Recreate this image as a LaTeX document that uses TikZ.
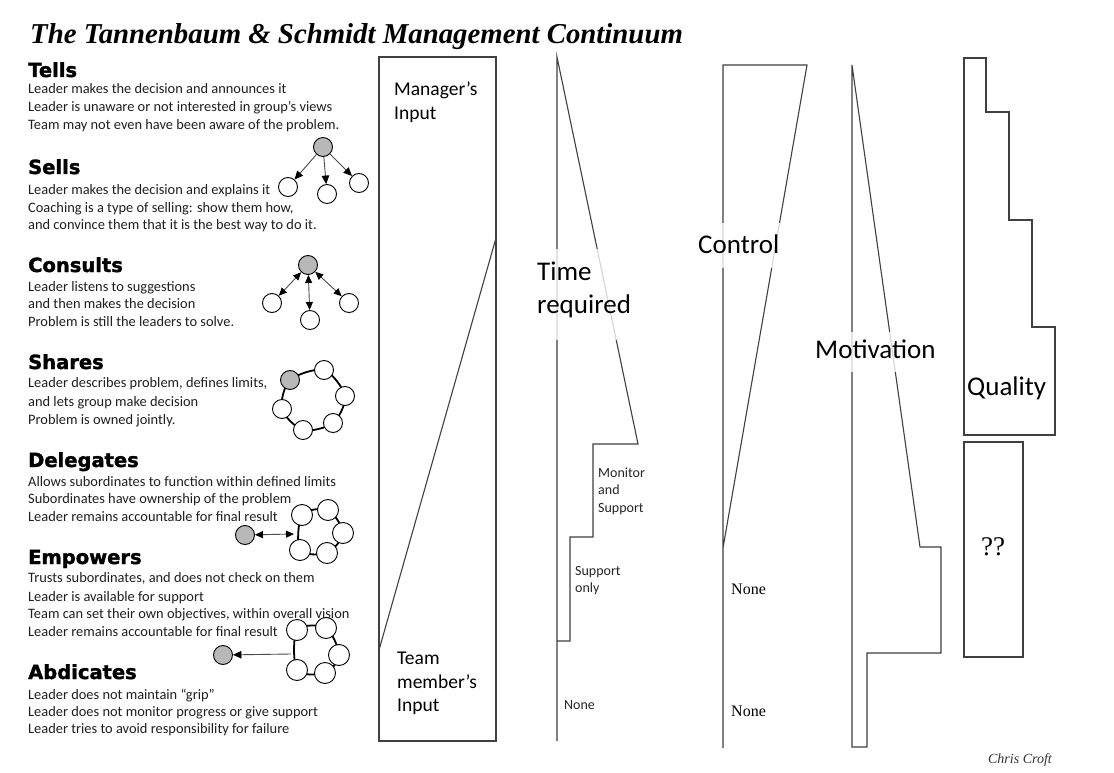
\documentclass[tikz,border=0pt]{standalone}
\usepackage{fontspec}
\setmainfont{Carlito}
\newfontfamily\hdfont{DejaVu Sans}[BoldFeatures={FakeBold=1.6}]
\newfontfamily\tmfont{Liberation Serif}
\usetikzlibrary{arrows.meta}
\begin{document}
\begin{tikzpicture}[x=1pt,y=-1pt,
  ln/.style={draw=black!75, line width=1.1pt, line join=miter},
  hd/.style={anchor=base west, inner sep=0, font=\hdfont\bfseries\fontsize{19.5}{22}\selectfont},
  bd/.style={anchor=base west, inner sep=0, font=\fontsize{14.4}{18}\selectfont, text=black!88},
  sm/.style={anchor=base west, inner sep=0, font=\fontsize{14}{17}\selectfont, text=black!85},
  tm/.style={anchor=base west, inner sep=0, font=\tmfont\fontsize{16}{18}\selectfont},
  big/.style={anchor=base west, inner sep=0, font=\fontsize{27}{33}\selectfont},
  mid/.style={anchor=north west, inner sep=0, align=left, font=\fontsize{19.5}{23.5}\selectfont},
  veil/.style={fill=white, fill opacity=0.78},
  wc/.style={circle, draw=black, line width=0.9pt, fill=white, minimum size=19pt, inner sep=0},
  wcl/.style={wc, minimum size=21pt},
  gc/.style={wc, fill=black!28},
  arr/.style={draw=black!70, line width=0.9pt, -{Triangle[length=8.5pt,width=7.5pt,color=black]}},
  darr/.style={draw=black!70, line width=0.9pt, {Triangle[length=8pt,width=7pt,color=black]}-{Triangle[length=8pt,width=7pt,color=black]}},
  ring/.style={draw=black, line width=1.8pt},
]
\fill[white] (0,0) rectangle (1114,773);
\useasboundingbox (0,0) rectangle (1114,773);

% title
\node[anchor=base west, inner sep=0, font=\tmfont\bfseries\itshape\fontsize{28.8}{34}\selectfont] (title) at (30,44) {The Tannenbaum \& Schmidt Management Continuum};

% left text
\node[hd] (h1) at (28,77) {Tells};
\node[bd] (t11) at (28,94) {Leader makes the decision and announces it};
\node[bd] (t12) at (28,112) {Leader is unaware or not interested in group’s views};
\node[bd] (t13) at (28,130) {Team may not even have been aware of the problem.};

\node[hd] (h2) at (28,174) {Sells};
\node[bd] (t21) at (28,194) {Leader makes the decision and explains it};
\node[bd] (t22) at (28,212) {Coaching is a type of selling: show them how,};
\node[bd] (t23) at (28,229) {and convince them that it is the best way to do it.};

\node[hd] (h3) at (28,272) {Consults};
\node[bd] (t31) at (28,291) {Leader listens to suggestions};
\node[bd] (t32) at (28,308) {and then makes the decision};
\node[bd] (t33) at (28,326) {Problem is still the leaders to solve.};

\node[hd] (h4) at (28,369) {Shares};
\node[bd] (t41) at (28,387) {Leader describes problem, defines limits,};
\node[bd] (t42) at (28,406) {and lets group make decision};
\node[bd] (t43) at (28,424) {Problem is owned jointly.};

\node[hd] (h5) at (28,467) {Delegates};
\node[bd] (t51) at (28,486) {Allows subordinates to function within defined limits};
\node[bd] (t52) at (28,503.5) {Subordinates have ownership of the problem};
\node[bd] (t53) at (28,521) {Leader remains accountable for final result};

\node[hd] (h6) at (28,564) {Empowers};
\node[bd] (t61) at (28,582.5) {Trusts subordinates, and does not check on them};
\node[bd] (t62) at (28,601) {Leader is available for support};
\node[bd] (t63) at (28,618.5) {Team can set their own objectives, within overall vision};
\node[bd] (t64) at (28,636) {Leader remains accountable for final result};

\node[hd] (h7) at (28,679) {Abdicates};
\node[bd] (t71) at (28,699.5) {Leader does not maintain “grip”};
\node[bd] (t72) at (28,716) {Leader does not monitor progress or give support};
\node[bd] (t73) at (28,733.5) {Leader tries to avoid responsibility for failure};

% Sells icon
\node[gc] (sg) at (323,147) {};
\node[wc] (s1) at (288,187) {};
\node[wc] (s2) at (327,194) {};
\node[wc] (s3) at (359,183) {};
\draw[arr] (sg) -- (s1);
\draw[arr] (sg) -- (s2);
\draw[arr] (sg) -- (s3);

% Consults icon
\node[gc] (cg) at (308,265) {};
\node[wc] (c1) at (272,303) {};
\node[wc] (c2) at (310,320) {};
\node[wc] (c3) at (349,303) {};
\draw[darr] (cg) -- (c1);
\draw[darr] (cg) -- (c2);
\draw[darr] (cg) -- (c3);

% Shares icon
\coordinate (pg) at (290,380);
\coordinate (p1) at (324,370);
\coordinate (p2) at (345,396);
\coordinate (p3) at (333,423);
\coordinate (p4) at (303,430);
\coordinate (p5) at (282,409);
\draw[ring] plot[smooth cycle] coordinates {(pg) (p1) (p2) (p3) (p4) (p5)};
\node[gc] (shg) at (pg) {};
\node[wc] (sh1) at (p1) {};
\node[wc] (sh2) at (p2) {};
\node[wc] (sh3) at (p3) {};
\node[wc] (sh4) at (p4) {};
\node[wc] (sh5) at (p5) {};

% Delegates icon
\coordinate (q1) at (302,515);
\coordinate (q2) at (328,510);
\coordinate (q3) at (343,533);
\coordinate (q4) at (327,553);
\coordinate (q5) at (300,550);
\draw[ring] plot[smooth cycle] coordinates {(q1) (q2) (q3) (q4) (q5)};
\node[wcl] (d1) at (q1) {};
\node[wcl] (d2) at (q2) {};
\node[wcl] (d3) at (q3) {};
\node[wcl] (d4) at (q4) {};
\node[wcl] (d5) at (q5) {};
\node[gc] (dg) at (245,535) {};
\coordinate (dl) at (294,534);
\draw[darr] (dg) -- (dl);

% Empowers icon
\coordinate (r1) at (297,630);
\coordinate (r2) at (326,628);
\coordinate (r3) at (339,655);
\coordinate (r4) at (325,673);
\coordinate (r5) at (297,670);
\draw[ring] plot[smooth cycle] coordinates {(r1) (r2) (r3) (r4) (r5)};
\node[wcl] (e1) at (r1) {};
\node[wcl] (e2) at (r2) {};
\node[wcl] (e3) at (r3) {};
\node[wcl] (e4) at (r4) {};
\node[wcl] (e5) at (r5) {};
\node[gc] (eg) at (223,655) {};
\coordinate (el) at (291,654);
\draw[arr] (el) -- (eg);

% Manager / team input column
\draw[ln] (379,57) rectangle (496,741);
\draw[ln] (496,238) -- (379,650);
\node[mid] (mgr) at (394,82) {Manager’s\\Input};
\node[mid] (team) at (397,652) {Team\\member’s\\Input};

% Time required column
\draw[ln] (557,741) -- (557,57) -- (638,444) -- (593,444) -- (593,537) -- (570,537) -- (570,641) -- (557,641);
\fill[veil] (533,249) rectangle (650,340);
\node[big] (time1) at (537,280) {Time};
\node[big] (time2) at (537,313) {required};
\node[sm] (mon1) at (598,477) {Monitor};
\node[sm] (mon2) at (598,494.5) {and};
\node[sm] (mon3) at (598,512) {Support};
\node[sm] (sup1) at (575,575) {Support};
\node[sm] (sup2) at (575,592) {only};
\node[sm] (none1) at (564,709) {None};

% Control column
\draw[ln] (723,748) -- (723,65) -- (807,65) -- (723,548);
\fill[veil] (697,223) rectangle (797,268);
\node[big] (ctrl) at (698,253) {Control};
\node[tm] (none2) at (731,594) {None};
\node[tm] (none3) at (731,716) {None};

% Motivation column
\draw[ln] (852,65) -- (920,547) -- (941,547) -- (941,653) -- (867,653) -- (867,747) -- (852,747) -- cycle;
\fill[veil] (810,332) rectangle (950,372);
\node[big] (motiv) at (815,358) {Motivation};

% Quality column
\draw[ln] (964,58) -- (986,58) -- (986,112) -- (1009,112) -- (1009,220) -- (1032,220) -- (1032,327) -- (1055,327) -- (1055,435) -- (964,435) -- cycle;
\node[big] (qual) at (967,395) {Quality};
\draw[ln] (964,442) rectangle (1023,657);
\node[inner sep=0, font=\tmfont\fontsize{27}{30}\selectfont] (qq) at (993,547) {??};

\node[anchor=base east, inner sep=0, font=\tmfont\itshape\fontsize{14}{16}\selectfont, text=black!80] (author) at (1052,763) {Chris Croft};
\end{tikzpicture}
\end{document}
